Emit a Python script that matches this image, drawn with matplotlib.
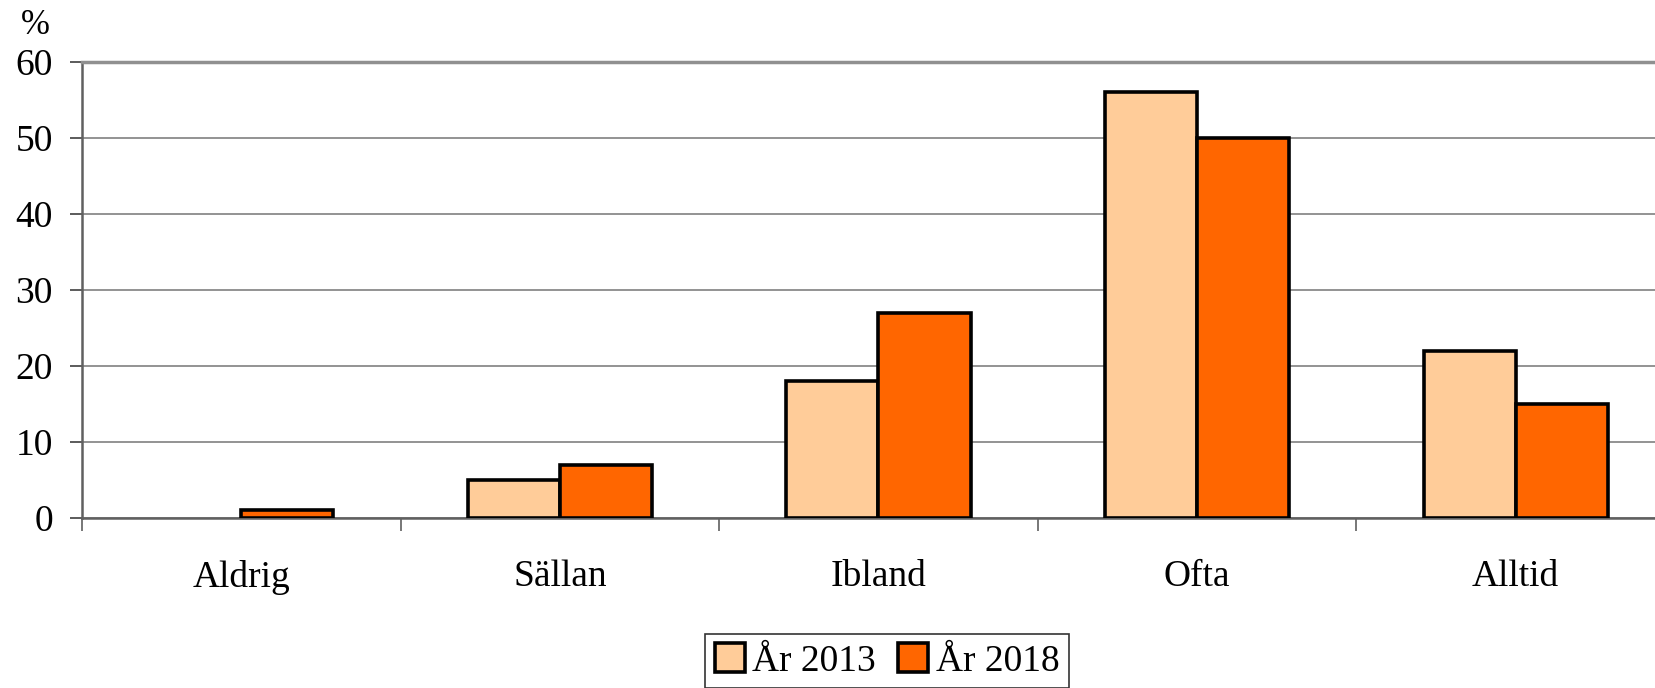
import matplotlib.pyplot as plt
from matplotlib.patches import Patch
import numpy as np

plt.rcParams['font.family'] = ['Liberation Serif', 'DejaVu Serif']

categories = ['Aldrig', 'Sällan', 'Ibland', 'Ofta', 'Alltid']
ar_2013 = [0, 5, 18, 56, 22]
ar_2018 = [1, 7, 27, 50, 15]
series_labels = ['År 2013', 'År 2018']
colors = ['#FFCC99', '#FF6600']
yticks = [0, 10, 20, 30, 40, 50, 60]

fig = plt.figure(figsize=(16.55, 6.88), dpi=100)
# plot area runs a bit past the right edge, like the original (cropped)
ax = fig.add_axes([82 / 1655, 1 - 518 / 688, 1593 / 1655, 456 / 688])

x = np.arange(len(categories))
w = 0.289
b1 = ax.bar(x - w / 2, ar_2013, w, color=colors[0], edgecolor='black', linewidth=2.6, zorder=3)
b2 = ax.bar(x + w / 2, ar_2018, w, color=colors[1], edgecolor='black', linewidth=2.6, zorder=3)
# zero-height bars draw nothing in the original
for bars in (b1, b2):
    for r in bars:
        if r.get_height() == 0:
            r.set_visible(False)

ax.set_xlim(-0.5, len(categories) - 0.5)
ax.set_ylim(0, 60)
ax.set_yticks(yticks)
ax.yaxis.grid(True, color='#808080', linewidth=1.2, zorder=0)

# category labels in the middle, tick marks on the group borders
ax.set_xticks(x)
ax.set_xticklabels(categories)
ax.set_xticks(np.arange(len(categories)) - 0.5, minor=True)
ax.tick_params(axis='x', which='major', length=0, pad=30, labelsize=27)
ax.tick_params(axis='x', which='minor', length=9, width=1.2, color='#606060')
ax.tick_params(axis='y', length=9, width=1.2, color='#404040', pad=12, labelsize=27)

for s in ['left', 'bottom']:
    ax.spines[s].set_color('#606060')
    ax.spines[s].set_linewidth(1.8)
ax.spines['top'].set_color('#909090')
ax.spines['top'].set_linewidth(2.5)
ax.spines['right'].set_visible(False)

fig.text(35 / 1655, 1 - 25 / 688, '%', fontsize=25, ha='center', va='center')

handles = [Patch(facecolor=c, edgecolor='black', linewidth=2.6) for c in colors]
leg = fig.legend(handles, series_labels, loc='upper center',
                 bbox_to_anchor=(887 / 1655, 1 - 634 / 688), ncol=2,
                 fontsize=27, frameon=True, fancybox=False, edgecolor='black',
                 handlelength=0.8, handleheight=0.8, handletextpad=0.2,
                 columnspacing=0.6, borderpad=0.25, borderaxespad=0)
leg.get_frame().set_linewidth(1.2)

plt.savefig('out.png', dpi=100)
